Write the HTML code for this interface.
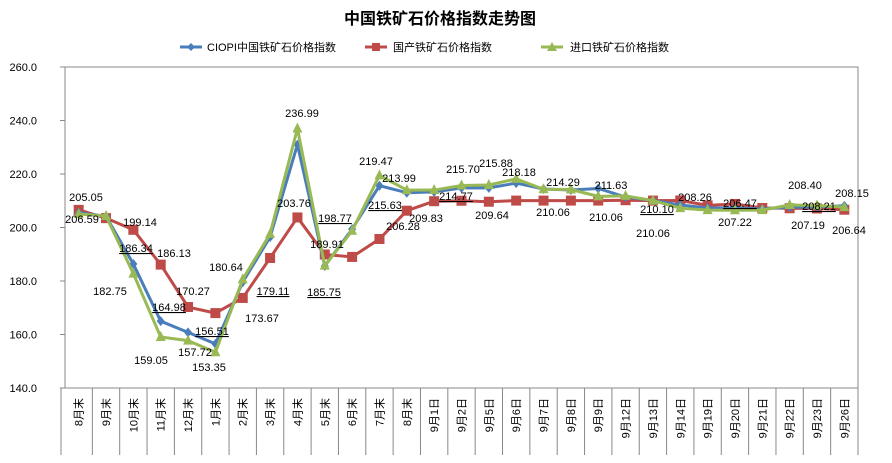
<!DOCTYPE html>
<html><head><meta charset="utf-8"><style>
body{margin:0;background:#fff;}
svg{display:block;font-family:"Liberation Sans","Noto Sans CJK SC",sans-serif;}
</style></head><body>
<svg id="c" width="892" height="463">
<text x="440" y="24" text-anchor="middle" font-size="16" font-weight="bold">中国铁矿石价格指数走势图</text>
<g font-size="11">
 <g><line x1="180" y1="47" x2="202" y2="47" stroke="#4a7ebb" stroke-width="3"/><path d="M191 43 L195 47 L191 51 L187 47Z" fill="#4a7ebb"/><text x="207" y="51">CIOPI中国铁矿石价格指数</text></g>
 <g><line x1="365" y1="47" x2="387" y2="47" stroke="#be4b48" stroke-width="3"/><rect x="372" y="43" width="8" height="8" fill="#be4b48"/><text x="393" y="51">国产铁矿石价格指数</text></g>
 <g><line x1="541" y1="47" x2="563" y2="47" stroke="#98b954" stroke-width="3"/><path d="M552 42 L557 51 L547 51Z" fill="#98b954"/><text x="570" y="51">进口铁矿石价格指数</text></g>
</g>
<g id="axes"></g><g id="marks"></g><g id="labels" font-size="11"></g>
</svg>
<script>
const categories=["8月末","9月末","10月末","11月末","12月末","1月末","2月末","3月末","4月末","5月末","6月末","7月末","8月末","9月1日","9月2日","9月5日","9月6日","9月7日","9月8日","9月9日","9月12日","9月13日","9月14日","9月19日","9月20日","9月21日","9月22日","9月23日","9月26日"];
const ciopi=[205.5,204.2,186.34,164.98,160.8,156.51,179.6,196.4,231,185.6,199.4,215.63,213,213.3,214.77,214.8,216.6,214.4,214,214.6,211.4,210.1,208.4,207.3,207.3,206.9,207.6,207.6,208.15];
const domestic=[206.59,203.5,199.14,186.13,170.27,168,173.67,188.6,203.76,189.91,189,195.7,206.28,209.83,210,209.64,210.06,210.06,210.06,210.06,210.2,210.06,210.1,208.26,208.8,207.3,207.19,207.1,206.64];
const imported=[205.05,204.3,182.75,159.05,157.72,153.35,180.64,197.6,236.99,185.75,198.77,219.47,213.99,214,215.70,215.88,218.18,214.29,214.2,211.63,211.8,210.06,207.22,206.5,206.47,206.5,208.40,208.21,207.6];
const yTicks=[140,160,180,200,220,240,260];
const labelTexts=[["205.05",86,201,0],["206.59",82,223,0],["199.14",140,226,0],["186.34",136,252,1],["186.13",174,257,0],["182.75",110,295,0],["164.98",169,311,1],["170.27",193,295,0],["156.51",212,335,1],["159.05",151,364,0],["157.72",195,356,0],["153.35",209,371,0],["180.64",226,271,0],["173.67",262,322,0],["179.11",273,295,1],["203.76",294,207,0],["236.99",302,117,0],["189.91",327,248,0],["198.77",335,222,1],["185.75",324,296,1],["219.47",376,165,0],["213.99",399,182,0],["215.63",385,209,1],["206.28",403,230,0],["209.83",426,222,0],["214.77",456,200,1],["215.70",463,173,0],["215.88",496,167,0],["209.64",492,219,0],["218.18",519,176,0],["214.29",563,186,0],["210.06",553,216,0],["211.63",611,189,0],["210.06",606,221,0],["210.10",657,213,1],["210.06",653,237,0],["208.26",695,201,0],["207.22",735,226,0],["206.47",740,207,1],["208.40",805,189,0],["208.21",819,210,1],["207.19",808,229,0],["208.15",852,197,0],["206.64",849,234,0]];
const NS="http://www.w3.org/2000/svg";
const X0=65,X1=858,Y0=388,Y1=67,YMIN=140,YMAX=260;
const bw=(X1-X0)/categories.length;
function xs(i){return X0+bw*(i+0.5);}
function ys(v){return Y0-(v-YMIN)/(YMAX-YMIN)*(Y0-Y1);}
function mk(t,a,p){const e=document.createElementNS(NS,t);for(const k in a)e.setAttribute(k,a[k]);p.appendChild(e);return e;}
const ax=document.getElementById('axes'),mg=document.getElementById('marks'),lg=document.getElementById('labels');
mk('rect',{x:X0,y:Y1,width:X1-X0,height:Y0-Y1,fill:'none',stroke:'#888'},ax);
yTicks.forEach(t=>{
 const y=ys(t);
 const l=mk('line',{x1:X0-5,y1:y,x2:X0,y2:y,stroke:'#888'},ax);
 
 
 const tx=mk('text',{x:X0-28,y:y+4,'text-anchor':'end','font-size':11},ax);
 tx.textContent=t.toFixed(1);
 
 
});
mk('line',{x1:X0-4,y1:Y0,x2:X0-4,y2:455,stroke:'#888'},ax);
categories.forEach((c,i)=>{
 const xr=X0+bw*(i+1);
 mk('line',{x1:xr,y1:Y0,x2:xr,y2:455,stroke:'#888'},ax);
 const tx=mk('text',{transform:`translate(${xs(i)+4},${398}) rotate(-90)`,'text-anchor':'end','font-size':11},ax);
 tx.textContent=c;
 
 
});
function series(vals,color,shape,name){
 const g=mk('g',{},mg);
 
 
 const pl=mk('polyline',{points:vals.map((v,i)=>xs(i)+','+ys(v)).join(' '),fill:'none',stroke:color,'stroke-width':3,'stroke-linejoin':'round'},g);
 
 
 vals.forEach((v,i)=>{
  const x=xs(i),y=ys(v);let m;
  if(shape==='d')m=mk('path',{d:`M${x} ${y-5}L${x+4} ${y}L${x} ${y+5}L${x-4} ${y}Z`,fill:color},g);
  else if(shape==='s')m=mk('rect',{x:x-5,y:y-5,width:10,height:10,fill:color},g);
  else m=mk('path',{d:`M${x} ${y-6}L${x+5} ${y+4}L${x-5} ${y+4}Z`,fill:color},g);
  
  
 });
}
series(domestic,'#be4b48','s','domestic-series');
series(ciopi,'#4a7ebb','d','ciopi-series');
series(imported,'#98b954','t','import-series');
labelTexts.forEach(d=>{
 const t=mk('text',{x:d[1],y:d[2],'text-anchor':'middle'},lg);
 t.textContent=d[0];
 if(d[3])t.setAttribute('text-decoration','underline');
 
 
});
</script>
</body></html>
